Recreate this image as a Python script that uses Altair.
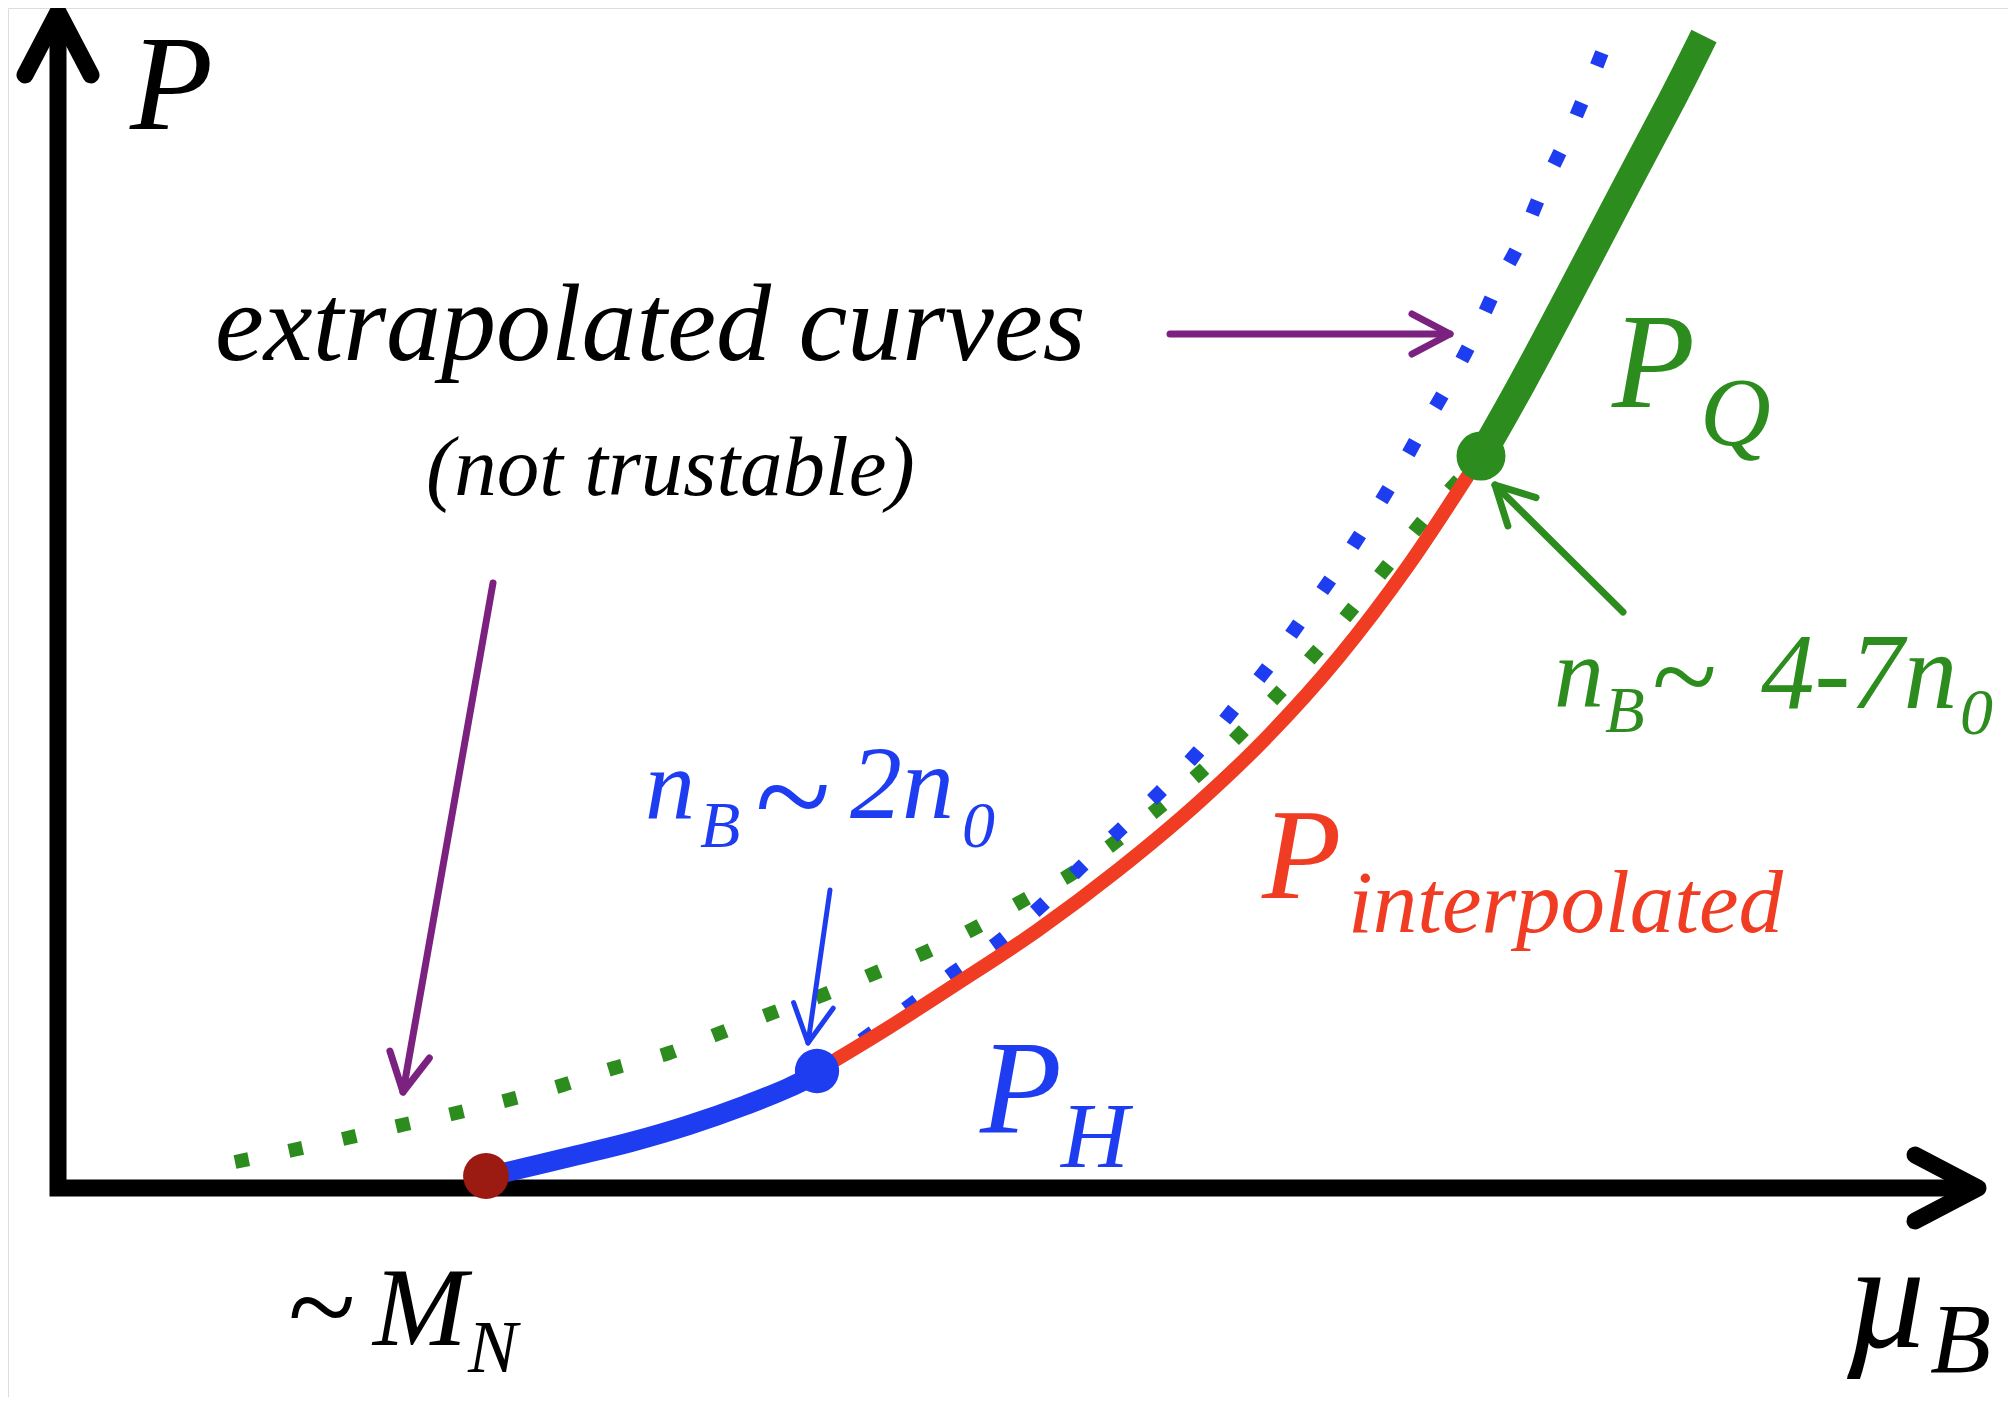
"""Schematic of the pressure P(mu_B): hadronic EoS, interpolated EoS and quark EoS."""
import numpy as np
import pandas as pd
import altair as alt

# colours and font of the sketch
BLUE = "#1e3cf0"
RED = "#f03c23"
GREEN = "#2c8c1e"
DARKRED = "#9b1a12"
PURPLE = "#7b2180"
BLACK = "#000000"
FONT = "Liberation Serif"

# all values are in arbitrary units counted from the crossing of the two axes

# hadronic pressure P_H (thick blue), from ~M_N up to n_B ~ 2 n_0
ph_mu = [428, 470, 516, 573, 631, 688, 730, 759]
ph_p = [11, 21, 32, 46, 63, 83, 100, 114]

# interpolated pressure (red)
pint_mu = [759, 830, 900, 980, 1060, 1140, 1210, 1280, 1350, 1420]
pint_p = [117, 160, 205, 258, 318, 385, 452, 530, 622, 728]

# quark pressure P_Q (thick green)
pq_mu = [1423, 1462, 1515, 1567, 1618, 1646]
pq_p = [732, 800, 900, 1000, 1095, 1152]

# extrapolated hadronic curve (blue dots)
hx_mu = [759, 804, 850, 895, 939, 982, 1022, 1062, 1102, 1140, 1175, 1210, 1242,
         1274, 1305, 1334, 1362, 1389, 1415, 1438, 1464, 1485, 1509, 1531, 1550]
hx_p = [117, 148, 181, 215, 245, 281, 320, 358, 396, 436, 478, 521, 566,
        611, 658, 705, 755, 801, 850, 900, 950, 1000, 1051, 1103, 1151]

# extrapolated quark curve (green dots)
qx_mu = [177, 235, 289, 344, 398, 450, 505, 556, 611, 662, 714, 765, 817, 868,
         919, 966, 1015, 1060, 1102, 1145, 1184, 1222, 1260, 1295, 1330, 1364, 1423]
qx_p = [26, 38, 50, 63, 75, 88, 103, 120, 135, 155, 175, 193, 215, 236,
        261, 288, 315, 348, 381, 418, 456, 496, 538, 580, 623, 666, 732]

# matching points: ~M_N, n_B ~ 2n_0, n_B ~ 4-7n_0
dot_mu = [428, 759, 1423]
dot_p = [12, 117, 732]
dot_col = [DARKRED, BLUE, GREEN]
dot_size = [2100, 1960, 2400]

# axes (drawn as an L with arrow heads)
axis_mu = [0, 0, 1914]
axis_p = [1170, 0, 0]
axis_tip_mu = [0, 1920]
axis_tip_p = [1176, 0]
axis_tip_ang = [0, 90]

# annotation arrows: start -> tip
arr_mu0 = [1112, 435, 772, 1565]
arr_p0 = [854, 605, 298, 576]
arr_mu1 = [1392, 345, 750, 1437]
arr_p1 = [854, 96, 145, 703]
arr_col = [PURPLE, PURPLE, BLUE, GREEN]
arr_w = [7, 7, 5, 7]

# italic labels (left aligned, alphabetic baseline)
txt = ["P", "\u00b5", "B", "M", "N", "extrapolated curves", "(not trustable)",
       "P", "Q", "n", "B", "4-7n", "0",
       "n", "B", "2n", "0", "P", "H",
       "P", "interpolated"]
txt_mu = [72, 1787, 1872, 315, 410, 157, 368,
          1554, 1642, 1496, 1547, 1703, 1902,
          587, 642, 792, 904, 922, 1003,
          1204, 1290]
txt_p = [1059, -159, -184, -157, -184, 828, 693,
         781, 743, 482, 456, 480, 454,
         370, 341, 370, 341, 56, 21,
         290, 256]
txt_size = [136, 150, 100, 113, 74, 110, 85,
            136, 98, 100, 65, 107, 66,
            100, 66, 104, 66, 134, 94,
            130, 89]
txt_col = [BLACK] * 7 + [GREEN] * 6 + [BLUE] * 6 + [RED] * 2

# upright tildes
tl_mu = [230, 1594, 697]
tl_p = [-161, 471, 345]
tl_size = [125, 120, 140]
tl_col = [BLACK, GREEN, BLUE]

sx = alt.Scale(domain=[-50, 1950], nice=False, zero=False)
sy = alt.Scale(domain=[-209, 1180], nice=False, zero=False)


def pos():
    return dict(x=alt.X("mu:Q", scale=sx, axis=None),
                y=alt.Y("p:Q", scale=sy, axis=None))


def curve(mu, p, color, width, dash=None, cap="round", interp="monotone", join="round"):
    df = pd.DataFrame({"mu": mu, "p": p, "i": range(len(mu))})
    kw = dict(color=color, strokeWidth=width, strokeCap=cap, strokeJoin=join,
              interpolate=interp, clip=False)
    if dash:
        kw["strokeDash"] = dash
    return alt.Chart(df).mark_line(**kw).encode(order="i:Q", **pos())


AXIS_HEAD = "M -33 63 L 0 0 L 33 63"
THIN_HEAD = "M -20 38 L 0 0 L 20 38"

axes = curve(axis_mu, axis_p, BLACK, 17, cap="butt", interp="linear", join="miter")
axis_heads = alt.Chart(pd.DataFrame({"mu": axis_tip_mu, "p": axis_tip_p,
                                     "ang": axis_tip_ang})).mark_point(
    shape=AXIS_HEAD, filled=False, size=4, opacity=1, color=BLACK,
    strokeWidth=17, strokeCap="round", strokeJoin="round",
).encode(angle=alt.Angle("ang:Q", scale=None), **pos())

green_dots = curve(qx_mu, qx_p, GREEN, 14, dash=[14, 41], cap="butt")
blue_dots = curve(hx_mu, hx_p, BLUE, 14, dash=[14, 40], cap="butt")
ph_line = curve(ph_mu, ph_p, BLUE, 20)
pint_line = curve(pint_mu, pint_p, RED, 14)
pq_line = curve(pq_mu, pq_p, GREEN, 28, cap="butt", interp="basis")

dots = alt.Chart(pd.DataFrame({"mu": dot_mu, "p": dot_p, "c": dot_col, "s": dot_size})).mark_circle(
    opacity=1
).encode(color=alt.Color("c:N", scale=None), size=alt.Size("s:Q", scale=None), **pos())

arr = pd.DataFrame({"mu": arr_mu0, "p": arr_p0, "mu1": arr_mu1, "p1": arr_p1,
                    "c": arr_col, "w": arr_w})
arr["ang"] = np.mod(np.degrees(np.arctan2(arr["mu1"] - arr["mu"], arr["p1"] - arr["p"])), 360)

shafts = alt.Chart(arr).mark_rule(strokeCap="round").encode(
    x=alt.X("mu:Q", scale=sx, axis=None), y=alt.Y("p:Q", scale=sy, axis=None),
    x2="mu1:Q", y2="p1:Q",
    color=alt.Color("c:N", scale=None), strokeWidth=alt.StrokeWidth("w:Q", scale=None),
)
heads = alt.Chart(arr).mark_point(
    shape=THIN_HEAD, filled=False, size=4, opacity=1, strokeCap="round", strokeJoin="round"
).encode(
    x=alt.X("mu1:Q", scale=sx, axis=None), y=alt.Y("p1:Q", scale=sy, axis=None),
    color=alt.Color("c:N", scale=None), strokeWidth=alt.StrokeWidth("w:Q", scale=None),
    angle=alt.Angle("ang:Q", scale=None),
)

labels = alt.Chart(pd.DataFrame({"t": txt, "mu": txt_mu, "p": txt_p, "s": txt_size, "c": txt_col})).mark_text(
    align="left", baseline="alphabetic", font=FONT, fontStyle="italic"
).encode(text="t:N", size=alt.Size("s:Q", scale=None), color=alt.Color("c:N", scale=None), **pos())

tildes = alt.Chart(pd.DataFrame({"t": ["~"] * 3, "mu": tl_mu, "p": tl_p, "s": tl_size, "c": tl_col})).mark_text(
    align="left", baseline="alphabetic", font=FONT
).encode(text="t:N", size=alt.Size("s:Q", scale=None), color=alt.Color("c:N", scale=None), **pos())

chart = (
    alt.layer(axes, axis_heads, green_dots, blue_dots, ph_line, pint_line, pq_line,
              dots, shafts, heads, labels, tildes)
    .properties(width=2000, height=1389, padding=0,
                autosize=alt.AutoSizeParams(type="none"))
    .configure_view(stroke=None)
    .configure(background="white")
)

chart.save("out.html", embed_options={"renderer": "svg", "actions": False})
